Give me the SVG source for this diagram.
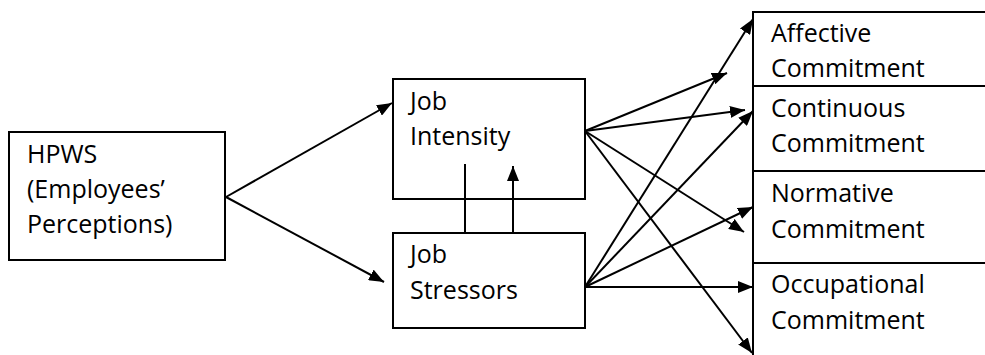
<svg xmlns="http://www.w3.org/2000/svg" width="985" height="355" viewBox="0 0 985 355">
<defs>
<style>
.box{fill:#fff;stroke:#000;stroke-width:2}
.t{font-family:"Open Sans","Noto Sans",sans-serif;font-size:25px;fill:#000}
.c{stroke:#000;stroke-width:2;fill:none}
.a{marker-end:url(#ah)}
</style>
<marker id="ah" markerUnits="userSpaceOnUse" markerWidth="15" markerHeight="12" refX="15" refY="6" orient="auto">
<path d="M0,0 L15,6 L0,12 z" fill="#000"/>
</marker>
</defs>
<rect width="985" height="355" fill="#fff"/>
<g id="hpws">
<rect class="box" x="9" y="132" width="216" height="128"/>
<text class="t" x="27" y="163">HPWS</text>
<text class="t" x="27" y="198">(Employees’</text>
<text class="t" x="27" y="233">Perceptions)</text>
</g>
<g id="job-intensity">
<rect class="box" x="393" y="79" width="192" height="120"/>
<text class="t" x="410" y="110">Job</text>
<text class="t" x="410" y="145">Intensity</text>
</g>
<g id="job-stressors">
<rect class="box" x="393" y="233" width="192" height="95"/>
<text class="t" x="410" y="263">Job</text>
<text class="t" x="410" y="299">Stressors</text>
</g>
<g id="affective">
<rect class="box" x="753" y="12" width="260" height="74"/>
<text class="t" x="771" y="42">Affective</text>
<text class="t" x="771" y="77">Commitment</text>
</g>
<g id="continuous">
<rect class="box" x="753" y="86" width="260" height="85"/>
<text class="t" x="771" y="117">Continuous</text>
<text class="t" x="771" y="152">Commitment</text>
</g>
<g id="normative">
<rect class="box" x="753" y="171" width="260" height="92"/>
<text class="t" x="771" y="202">Normative</text>
<text class="t" x="771" y="238">Commitment</text>
</g>
<g id="occupational">
<rect class="box" x="753" y="263" width="260" height="110"/>
<text class="t" x="771" y="293">Occupational</text>
<text class="t" x="771" y="329">Commitment</text>
</g>
<g id="connectors">
<line class="c a" x1="226" y1="197" x2="392" y2="103"/>
<line class="c a" x1="226" y1="197" x2="384" y2="282"/>
<line class="c" x1="465" y1="164" x2="465" y2="233"/>
<line class="c a" x1="513" y1="233" x2="513" y2="166"/>
<line class="c a" x1="585" y1="131" x2="727" y2="73"/>
<line class="c a" x1="585" y1="131" x2="745" y2="110"/>
<line class="c a" x1="585" y1="131" x2="744" y2="232"/>
<line class="c a" x1="585" y1="131" x2="752" y2="353"/>
<line class="c a" x1="585" y1="287" x2="753" y2="19"/>
<line class="c a" x1="585" y1="287" x2="753" y2="111"/>
<line class="c a" x1="585" y1="287" x2="753" y2="207"/>
<line class="c a" x1="585" y1="287" x2="753" y2="287"/>
</g>
</svg>
